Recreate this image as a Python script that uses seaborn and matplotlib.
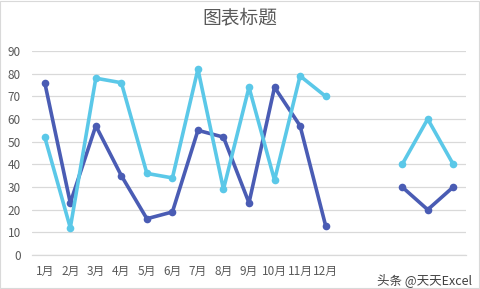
import numpy as np
import pandas as pd
import matplotlib
matplotlib.use("Agg")
import matplotlib.pyplot as plt
import seaborn as sns
from matplotlib.patches import Rectangle

months = ["1月", "2月", "3月", "4月", "5月", "6月", "7月", "8月", "9月", "10月", "11月", "12月"]
series_a = [76, 23, 57, 35, 16, 19, 55, 52, 23, 74, 57, 13]
series_b = [52, 12, 78, 76, 36, 34, 82, 29, 74, 33, 79, 70]
extra_pos = [14, 15, 16]
extra_a = [30, 20, 30]
extra_b = [40, 60, 40]
yticks = list(range(0, 91, 10))

sns.set_theme(style="white")
plt.rcParams["font.family"] = ["Noto Sans CJK SC", "DejaVu Sans"]

rows = []
for i, v in enumerate(series_a):
    rows.append(dict(x=i, y=v, s="A", seg="A1"))
for p, v in zip(extra_pos, extra_a):
    rows.append(dict(x=p, y=v, s="A", seg="A2"))
for i, v in enumerate(series_b):
    rows.append(dict(x=i, y=v, s="B", seg="B1"))
for p, v in zip(extra_pos, extra_b):
    rows.append(dict(x=p, y=v, s="B", seg="B2"))
df = pd.DataFrame(rows)

palette = {"A": "#4A5CB4", "B": "#5BC8E8"}

fig = plt.figure(figsize=(4.8, 2.89), dpi=100)
ax = fig.add_axes([32/480, 34/289, 434/480, 204/289])

sns.lineplot(data=df, x="x", y="y", hue="s", units="seg", estimator=None,
             palette=palette, linewidth=2.6, marker="o", markersize=5.5,
             markeredgewidth=0, legend=False, ax=ax, sort=False)

ax.set_xlim(-0.5, 16.5)
ax.set_ylim(0, 90)
ax.set_yticks(yticks)
ax.set_yticklabels([str(t) for t in yticks])
ax.set_xticks(range(len(months)))
ax.set_xticklabels(months)
ax.set_xlabel("")
ax.set_ylabel("")
ax.grid(axis="y", color="#D9D9D9", linewidth=0.9)
ax.set_axisbelow(True)
for sp in ["top", "right", "left"]:
    ax.spines[sp].set_visible(False)
ax.spines["bottom"].set_color("#D9D9D9")
ax.spines["bottom"].set_linewidth(0.9)
ax.tick_params(axis="both", length=0, labelsize=8.5, colors="#595959")
ax.tick_params(axis="y", pad=8)
ax.tick_params(axis="x", pad=7)

fig.text(0.5, 1 - 18/289, "图表标题", ha="center", va="center", fontsize=13.5, color="#595959")
fig.text(472/480, 1 - 280/289, "头条 @天天Excel", ha="right", va="center", fontsize=9, color="#404040")
fig.patches.append(Rectangle((0.001, 0.002), 0.997, 0.995, transform=fig.transFigure,
                             fill=False, edgecolor="#D9D9D9", linewidth=0.8))

fig.savefig("out.png", dpi=100)
